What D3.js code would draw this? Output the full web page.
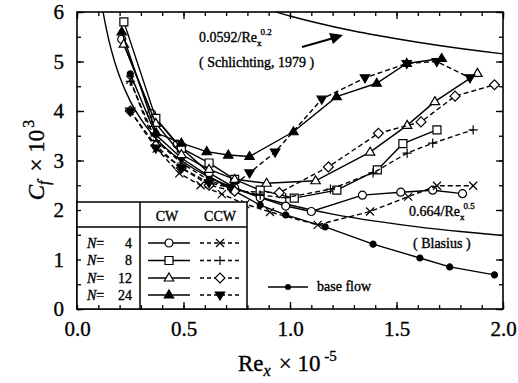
<!DOCTYPE html>
<html><head><meta charset="utf-8">
<script src="https://cdn.jsdelivr.net/npm/d3@7"></script>
<style>
html,body{margin:0;padding:0;background:#fff;}
svg text{font-family:"Liberation Serif","Times New Roman",serif;stroke:#000;stroke-width:0.35px;fill:#000;}
</style></head>
<body>
<svg id="chart" width="518" height="383"></svg>
<script>
// ---- data ----
const xTickValues = [0.0, 0.5, 1.0, 1.5, 2.0];
const xTickLabels = ["0.0", "0.5", "1.0", "1.5", "2.0"];
const yTickValues = [0, 1, 2, 3, 4, 5, 6];
const yTickLabels = ["0", "1", "2", "3", "4", "5", "6"];

const baseX = [0.25, 0.37, 0.49, 0.62, 0.74, 0.86, 0.98, 1.165, 1.39, 1.61, 1.75, 1.96];
const baseY = [4.75, 3.52, 3.05, 2.68, 2.38, 2.10, 1.90, 1.66, 1.31, 1.03, 0.85, 0.69];

const n4cwX  = [0.21, 0.35, 0.47, 0.62, 0.74, 0.86, 0.98, 1.10, 1.34, 1.52, 1.67, 1.81];
const n4cwY  = [5.45, 3.95, 3.33, 2.75, 2.45, 2.25, 2.08, 1.97, 2.30, 2.36, 2.40, 2.33];
const n4ccwX = [0.25, 0.374, 0.48, 0.58, 0.68, 0.79, 0.906, 1.13, 1.376, 1.555, 1.69, 1.86];
const n4ccwY = [4.63, 3.24, 2.74, 2.50, 2.32, 2.12, 1.96, 1.70, 1.97, 2.27, 2.49, 2.49];

const n8cwX  = [0.22, 0.37, 0.49, 0.62, 0.74, 0.86, 1.02, 1.22, 1.41, 1.53, 1.69];
const n8cwY  = [5.80, 3.85, 3.25, 2.95, 2.62, 2.40, 2.24, 2.40, 2.81, 3.34, 3.62];
const n8ccwX = [0.25, 0.37, 0.49, 0.62, 0.74, 0.86, 0.98, 1.19, 1.39, 1.55, 1.67, 1.86];
const n8ccwY = [4.60, 3.40, 2.95, 2.60, 2.42, 2.30, 2.25, 2.42, 2.75, 3.15, 3.35, 3.62];

const n12cwX  = [0.22, 0.37, 0.49, 0.62, 0.74, 0.89, 1.12, 1.376, 1.55, 1.68, 1.88];
const n12cwY  = [5.35, 3.75, 3.12, 2.82, 2.62, 2.54, 2.59, 3.17, 3.71, 4.19, 4.76];
const n12ccwX = [0.25, 0.37, 0.49, 0.62, 0.74, 0.95, 1.18, 1.415, 1.615, 1.775, 1.96];
const n12ccwY = [4.00, 3.30, 2.85, 2.50, 2.38, 2.35, 2.87, 3.55, 3.78, 4.30, 4.53];

const n24cwX  = [0.21, 0.371, 0.49, 0.609, 0.71, 0.81, 1.016, 1.219, 1.407, 1.548, 1.712];
const n24cwY  = [5.60, 3.56, 3.35, 3.18, 3.11, 3.08, 3.58, 4.29, 4.56, 4.96, 5.06];
const n24ccwX = [0.25, 0.37, 0.49, 0.62, 0.72, 0.81, 0.93, 1.149, 1.352, 1.548, 1.689, 1.845];
const n24ccwY = [4.00, 3.25, 2.85, 2.55, 2.45, 2.75, 3.17, 4.24, 4.67, 4.96, 5.00, 4.67];

// theoretical curves (values of 0.0592/Re^0.2 and 0.664/Re^0.5, x 10^3)
const schX = [0.935, 1.0, 1.1, 1.2, 1.3, 1.4, 1.5, 1.6, 1.7, 1.8, 1.9, 2.0];
const schY = [6.00, 5.92, 5.808, 5.708, 5.617, 5.535, 5.459, 5.389, 5.324, 5.263, 5.207, 5.154];
const blaX = [0.1225, 0.13, 0.15, 0.175, 0.2, 0.25, 0.3, 0.35, 0.4, 0.5, 0.6, 0.7, 0.8, 0.9, 1.0, 1.2, 1.4, 1.6, 1.8, 2.0];
const blaY = [6.00, 5.824, 5.422, 5.019, 4.695, 4.200, 3.834, 3.549, 3.320, 2.970, 2.711, 2.510, 2.348, 2.213, 2.100, 1.917, 1.775, 1.660, 1.565, 1.485];

const legendRows = ["4", "8", "12", "24"];

// ---- drawing ----
const FONT = '"Liberation Serif","Times New Roman",serif';
const svg = d3.select("#chart");
const L = 77, R = 503, T = 12, B = 309;
const x = d3.scaleLinear().domain([0, 2]).range([L, R]);
const y = d3.scaleLinear().domain([0, 6]).range([B, T]);

const zip = (xs, ys) => xs.map((v, i) => [v, ys[i]]);
const line = d3.line().x(d => x(d[0])).y(d => y(d[1])).curve(d3.curveMonotoneX);
const lineLin = d3.line().x(d => x(d[0])).y(d => y(d[1]));

function markerPath(type, s) {
  const h = s / 2;
  switch (type) {
    case "circle": return d3.symbol(d3.symbolCircle, Math.PI * h * h)();
    case "square": return `M${-h},${-h}H${h}V${h}H${-h}Z`;
    case "triUp": { const r = s * 0.62; return `M0,${-r}L${r * 0.95},${r * 0.6}L${-r * 0.95},${r * 0.6}Z`; }
    case "triDown": { const r = s * 0.62; return `M0,${r}L${r * 0.95},${-r * 0.6}L${-r * 0.95},${-r * 0.6}Z`; }
    case "diamond": { const r = s * 0.62; return `M0,${-r}L${r},0L0,${r}L${-r},0Z`; }
    case "x": return `M${-h},${-h}L${h},${h}M${-h},${h}L${h},${-h}`;
    case "plus": { const r = h * 1.15; return `M${-r},0H${r}M0,${-r}V${r}`; }
  }
}

const series = [
  { xs: baseX, ys: baseY, dash: null, marker: "circle", fill: "#000", size: 6 },
  { xs: n4cwX, ys: n4cwY, dash: null, marker: "circle", fill: "#fff", size: 8 },
  { xs: n4ccwX, ys: n4ccwY, dash: "5,3", marker: "x", fill: "none", size: 8 },
  { xs: n8cwX, ys: n8cwY, dash: null, marker: "square", fill: "#fff", size: 8 },
  { xs: n8ccwX, ys: n8ccwY, dash: "5,3", marker: "plus", fill: "none", size: 8 },
  { xs: n12cwX, ys: n12cwY, dash: null, marker: "triUp", fill: "#fff", size: 8 },
  { xs: n12ccwX, ys: n12ccwY, dash: "5,3", marker: "diamond", fill: "#fff", size: 8 },
  { xs: n24cwX, ys: n24cwY, dash: null, marker: "triUp", fill: "#000", size: 8 },
  { xs: n24ccwX, ys: n24ccwY, dash: "5,3", marker: "triDown", fill: "#000", size: 8 }
];

svg.append("path").attr("d", line(zip(schX, schY))).attr("fill", "none").attr("stroke", "#000").attr("stroke-width", 1.4);
svg.append("path").attr("d", line(zip(blaX, blaY))).attr("fill", "none").attr("stroke", "#000").attr("stroke-width", 1.4);

series.forEach(s => {
  const pts = zip(s.xs, s.ys);
  svg.append("path").attr("d", lineLin(pts)).attr("fill", "none").attr("stroke", "#000")
    .attr("stroke-width", 1.4).attr("stroke-dasharray", s.dash);
  svg.append("g").selectAll("path").data(pts).join("path")
    .attr("transform", d => `translate(${x(d[0])},${y(d[1])})`)
    .attr("d", markerPath(s.marker, s.size))
    .attr("fill", s.fill).attr("stroke", "#000").attr("stroke-width", 1.2);
});

const minorX = d3.range(0, 2.0001, 0.1).map(v => +v.toFixed(2));
const minorY = d3.range(0, 6.0001, 0.5).map(v => +v.toFixed(2));
function styleAxis(g) {
  g.attr("font-family", FONT);
  g.select(".domain").remove();
  g.selectAll("line").attr("stroke", "#000").attr("stroke-width", 1.3);
}
svg.append("g").attr("transform", `translate(0,${B})`)
  .call(d3.axisBottom(x).tickValues(minorX).tickSize(-4).tickFormat("")).call(styleAxis);
svg.append("g").attr("transform", `translate(0,${B})`)
  .call(d3.axisBottom(x).tickValues(xTickValues).tickSize(-7).tickPadding(12).tickFormat((d, i) => xTickLabels[i]))
  .call(styleAxis)
  .call(g => g.selectAll("text").attr("font-size", 21).attr("fill", "#000"));
svg.append("g").attr("transform", `translate(0,${T})`)
  .call(d3.axisTop(x).tickValues(minorX).tickSize(-4).tickFormat("")).call(styleAxis);
svg.append("g").attr("transform", `translate(0,${T})`)
  .call(d3.axisTop(x).tickValues(xTickValues).tickSize(-7).tickFormat("")).call(styleAxis);
svg.append("g").attr("transform", `translate(${L},0)`)
  .call(d3.axisLeft(y).tickValues(minorY).tickSize(-4).tickFormat("")).call(styleAxis);
svg.append("g").attr("transform", `translate(${L},0)`)
  .call(d3.axisLeft(y).tickValues(yTickValues).tickSize(-7).tickPadding(13).tickFormat((d, i) => yTickLabels[i]))
  .call(styleAxis)
  .call(g => g.selectAll("text").attr("font-size", 21).attr("fill", "#000"));
svg.append("g").attr("transform", `translate(${R},0)`)
  .call(d3.axisRight(y).tickValues(minorY).tickSize(-4).tickFormat("")).call(styleAxis);
svg.append("g").attr("transform", `translate(${R},0)`)
  .call(d3.axisRight(y).tickValues(yTickValues).tickSize(-7).tickFormat("")).call(styleAxis);

svg.append("rect").attr("x", L).attr("y", T).attr("width", R - L).attr("height", B - T)
  .attr("fill", "none").attr("stroke", "#000").attr("stroke-width", 1.6);

// axis titles
const xt = svg.append("text").attr("x", 238).attr("y", 371).attr("font-size", 23);
xt.append("tspan").text("Re");
xt.append("tspan").attr("font-style", "italic").attr("font-size", 16).attr("dy", 5).text("x");
xt.append("tspan").attr("dy", -5).attr("dx", 8).text("× 10");
xt.append("tspan").attr("font-size", 15).attr("dy", -10).text(" -5");

const yt = svg.append("text").attr("transform", "translate(44,160) rotate(-90)")
  .attr("text-anchor", "middle").attr("font-size", 23);
yt.append("tspan").attr("font-style", "italic").text("C");
yt.append("tspan").attr("font-style", "italic").attr("font-size", 16).attr("dy", 5).text("f");
yt.append("tspan").attr("dy", -5).attr("dx", 9).text("× 10");
yt.append("tspan").attr("font-size", 16).attr("dy", -10).attr("dx", 2).text("3");

// annotations
const a1 = svg.append("text").attr("x", 199).attr("y", 42).attr("font-size", 14);
a1.append("tspan").text("0.0592/Re");
a1.append("tspan").attr("font-size", 9).attr("dy", 4).text("x");
a1.append("tspan").attr("font-size", 9).attr("dy", -11).attr("dx", -1).text("0.2");
svg.append("text").attr("x", 199).attr("y", 67).attr("font-size", 14).text("( Schlichting, 1979 )");
svg.append("line").attr("x1", 302).attr("y1", 47).attr("x2", 332).attr("y2", 38.5).attr("stroke", "#000").attr("stroke-width", 2);
svg.append("path").attr("d", "M343,35 L329,33 L333,44 Z").attr("fill", "#000");

const a2 = svg.append("text").attr("x", 409).attr("y", 216).attr("font-size", 14);
a2.append("tspan").text("0.664/Re");
a2.append("tspan").attr("font-size", 9).attr("dy", 4).text("x");
a2.append("tspan").attr("font-size", 9).attr("dy", -11).attr("dx", -1).text("0.5");
svg.append("text").attr("x", 413).attr("y", 248).attr("font-size", 14).text("( Blasius )");

// base flow legend
svg.append("line").attr("x1", 268).attr("x2", 308).attr("y1", 287).attr("y2", 287).attr("stroke", "#000").attr("stroke-width", 1.4);
svg.append("path").attr("transform", "translate(288,287)").attr("d", markerPath("circle", 6)).attr("fill", "#000");
svg.append("text").attr("x", 317).attr("y", 291).attr("font-size", 14).text("base flow");

// N legend box
const lg = svg.append("g");
lg.append("rect").attr("x", L).attr("y", 202).attr("width", 247 - L).attr("height", B - 202)
  .attr("fill", "#fff").attr("stroke", "#000").attr("stroke-width", 1.5);
lg.append("line").attr("x1", L).attr("x2", 247).attr("y1", 227).attr("y2", 227).attr("stroke", "#000").attr("stroke-width", 1.5);
lg.append("line").attr("x1", 140).attr("x2", 140).attr("y1", 202).attr("y2", B).attr("stroke", "#000").attr("stroke-width", 1.5);
lg.append("text").attr("x", 167).attr("y", 221).attr("text-anchor", "middle").attr("font-size", 14).text("CW");
lg.append("text").attr("x", 220).attr("y", 221).attr("text-anchor", "middle").attr("font-size", 14).text("CCW");
lg.append("g").attr("transform", `translate(0,${B})`)
  .call(d3.axisBottom(x).tickValues(minorX.filter(v => x(v) < 247)).tickSize(-4).tickFormat("")).call(styleAxis);
lg.append("g").attr("transform", `translate(0,${B})`)
  .call(d3.axisBottom(x).tickValues([0.5]).tickSize(-7).tickFormat("")).call(styleAxis);
lg.append("g").attr("transform", `translate(${L},0)`)
  .call(d3.axisLeft(y).tickValues(minorY.filter(v => y(v) > 202)).tickSize(-4).tickFormat("")).call(styleAxis);

const rowY = [243, 260.5, 278, 295];
legendRows.forEach((n, i) => {
  const ry = rowY[i];
  const t = lg.append("text").attr("x", 87).attr("y", ry + 4.5).attr("font-size", 14);
  t.append("tspan").attr("font-style", "italic").text("N");
  t.append("tspan").text("=");
  lg.append("text").attr("x", 132).attr("y", ry + 4.5).attr("text-anchor", "end").attr("font-size", 14).text(n);
  const cw = series[1 + i * 2], ccw = series[2 + i * 2];
  lg.append("line").attr("x1", 148).attr("x2", 190).attr("y1", ry).attr("y2", ry).attr("stroke", "#000").attr("stroke-width", 1.4);
  lg.append("path").attr("transform", `translate(169,${ry})`).attr("d", markerPath(cw.marker, cw.size))
    .attr("fill", cw.fill).attr("stroke", "#000").attr("stroke-width", 1.2);
  lg.append("line").attr("x1", 200).attr("x2", 242).attr("y1", ry).attr("y2", ry).attr("stroke", "#000")
    .attr("stroke-width", 1.4).attr("stroke-dasharray", "4,3");
  lg.append("path").attr("transform", `translate(220,${ry})`).attr("d", markerPath(ccw.marker, ccw.size))
    .attr("fill", ccw.fill).attr("stroke", "#000").attr("stroke-width", 1.2);
});
</script>
</body></html>
